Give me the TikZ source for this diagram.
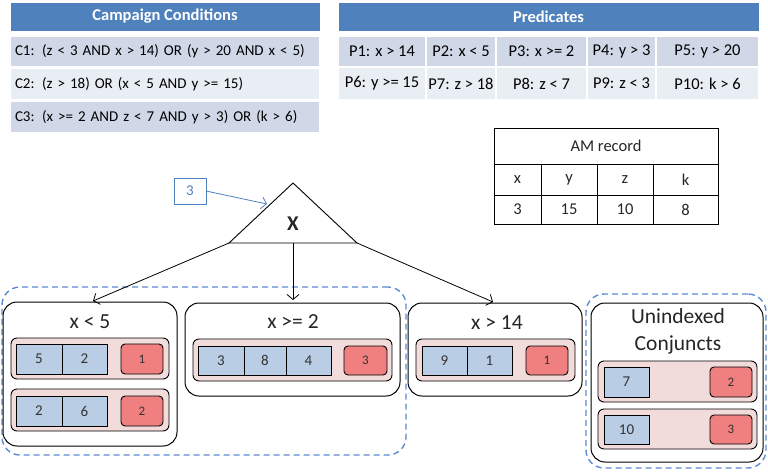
\documentclass[tikz,border=0pt]{standalone}
\usepackage{fontspec}
\setmainfont{Carlito}
\usetikzlibrary{arrows.meta}
\definecolor{hdr}{HTML}{4F81BD}
\definecolor{rowA}{HTML}{D0D8E8}
\definecolor{rowB}{HTML}{E9EDF4}
\definecolor{cellblue}{HTML}{B9CDE5}
\definecolor{cellred}{HTML}{F08080}
\definecolor{rowpink}{HTML}{F2DCDB}
\definecolor{dashblue}{HTML}{5B8BD0}
\definecolor{numblue}{HTML}{4F81BD}
\newcommand{\bx}[7]{\node[#6, minimum width={(#4-#2)*1pt}, minimum height={(#5-#3)*1pt}, inner sep=0pt, outer sep=0pt, anchor=center] (#1) at ({(#2+#4)/2},{(#3+#5)/2}) {#7};}
\tikzset{
  thead/.style={fill=hdr, draw=white, line width=1pt, text=white, font=\fontsize{16.5}{18}\selectfont\bfseries},
  trowA/.style={fill=rowA, draw=white, line width=1.5pt, font=\fontsize{15}{17}\selectfont},
  trowB/.style={fill=rowB, draw=white, line width=1.5pt, font=\fontsize{15}{17}\selectfont},
  prowA/.style={trowA, font=\fontsize{16.5}{18}\selectfont},
  prowB/.style={trowB, font=\fontsize{16.5}{18}\selectfont},
  amcell/.style={draw=black, line width=0.8pt, font=\fontsize{16.5}{18}\selectfont, text=black!85},
  group/.style={draw=dashblue, dashed, dash pattern=on 6pt off 4pt, line width=1.4pt, rounded corners=18pt},
  idxbox/.style={draw=black, line width=1pt, rounded corners=14pt, fill=white},
  conj/.style={draw=black, line width=0.9pt, fill=rowpink, rounded corners=6pt},
  bcell/.style={draw=black, line width=0.9pt, fill=cellblue, font=\fontsize{15}{17}\selectfont, text=black!80},
  rcell/.style={draw=black, line width=0.9pt, fill=cellred, rounded corners=4pt, font=\fontsize{13}{15}\selectfont, text=black!80},
  ttl/.style={font=\fontsize{21.5}{24}\selectfont, text=black!85},
  tarrow/.style={draw=black, line width=0.8pt, -{Straight Barb[length=5pt,width=12pt]}},
}
\begin{document}
\begin{tikzpicture}[x=1pt,y=-1pt]
\useasboundingbox (0,0) rectangle (768,471);
% Campaign conditions table
\bx{ch}{10}{2}{320}{31}{thead}{Campaign Conditions}
\bx{c1}{10}{36}{320}{67}{trowA, text width=300pt, align=left}{C1: (z < 3 AND x > 14) OR (y > 20 AND x < 5)}
\bx{c2}{10}{68}{320}{100}{trowB, text width=300pt, align=left}{C2: (z > 18) OR (x < 5 AND y >= 15)}
\bx{c3}{10}{101}{320}{133}{trowA, text width=300pt, align=left}{C3: (x >= 2 AND z < 7 AND y > 3) OR (k > 6)}
% Predicates table
\bx{ph}{338}{2}{759}{31}{thead}{Predicates}
\bx{p1}{338}{36}{426}{67}{prowA}{P1: x > 14}
\bx{p2}{426}{36}{496}{67}{prowA}{P2: x < 5}
\bx{p3}{496}{36}{587}{67}{prowA}{P3: x >= 2}
\bx{p4}{587}{36}{656}{67}{prowA}{P4: y > 3}
\bx{p5}{656}{36}{759}{67}{prowA}{P5: y > 20}
\bx{p6}{338}{67}{426}{100}{prowB}{P6: y >= 15}
\bx{p7}{426}{67}{496}{100}{prowB}{P7: z > 18}
\bx{p8}{496}{67}{587}{100}{prowB}{P8: z < 7}
\bx{p9}{587}{67}{656}{100}{prowB}{P9: z < 3}
\bx{p10}{656}{67}{759}{100}{prowB}{P10: k > 6}
% AM record
\bx{amh}{494}{128}{718}{164}{amcell}{AM record}
\bx{amx}{494}{164}{541}{195}{amcell}{x}
\bx{amy}{541}{164}{597}{195}{amcell}{y}
\bx{amz}{597}{164}{653}{195}{amcell}{z}
\bx{amk}{653}{164}{718}{195}{amcell}{k}
\bx{am3}{494}{195}{541}{224}{amcell}{3}
\bx{am15}{541}{195}{597}{224}{amcell}{15}
\bx{am10}{597}{195}{653}{224}{amcell}{10}
\bx{am8}{653}{195}{718}{224}{amcell}{8}
% triangle
\coordinate (tapex) at (293,183);
\coordinate (tl) at (229,243);
\coordinate (tr) at (357,243);
\coordinate (tm) at (293,243);
\draw[line width=0.9pt, line join=miter] (tapex) -- (tr) -- (tl) -- cycle;
\node[font=\fontsize{21}{23}\selectfont\bfseries, text=black!85] (X) at (293,224) {X};
\bx{three}{174}{178}{206}{204}{draw=numblue, line width=0.8pt, text=numblue, font=\fontsize{15}{17}\selectfont}{3}
\coordinate (hit) at (267,204);
\draw[draw=numblue, line width=0.8pt, -{Straight Barb[length=5pt,width=12pt]}] (three.east) -- (hit);
% dashed groups
\bx{grpL}{2}{287}{406}{455}{group}{}
\bx{grpR}{586}{294}{766}{468}{group}{}
% index boxes
\bx{bx5}{3}{302}{177}{446}{idxbox}{}
\node[ttl] (t5) at (90,322) {x < 5};
\bx{bx2}{185}{303}{400}{396}{idxbox}{}
\node[ttl] (t2) at (293,322) {x >= 2};
\bx{bx14}{408}{303}{582}{396}{idxbox}{}
\node[ttl] (t14) at (497,323) {x > 14};
\bx{bxU}{591}{303}{763}{462}{idxbox}{}
\node[ttl, align=center, font=\fontsize{21.5}{27}\selectfont] (tU) at (678,331) {Unindexed\\Conjuncts};
% arrows from triangle
\coordinate (a5) at (93,301);
\coordinate (a2) at (293,300);
\coordinate (a14) at (493,302);
\draw[tarrow] (tl) -- (a5);
\draw[tarrow] (tm) -- (a2);
\draw[tarrow] (tr) -- (a14);
% x<5 conjuncts
\bx{r51}{11}{338}{169}{379}{conj}{}
\bx{r51a}{16}{344}{62}{374}{bcell}{5}
\bx{r51b}{62}{344}{107}{374}{bcell}{2}
\bx{r51c}{121}{344}{163}{374}{rcell}{1}
\bx{r52}{11}{389}{169}{431}{conj}{}
\bx{r52a}{16}{396}{62}{426}{bcell}{2}
\bx{r52b}{62}{396}{107}{426}{bcell}{6}
\bx{r52c}{121}{396}{163}{426}{rcell}{2}
% x>=2
\bx{r21}{193}{339}{392}{381}{conj}{}
\bx{r21a}{198}{346}{244}{375}{bcell}{3}
\bx{r21b}{244}{346}{286}{375}{bcell}{8}
\bx{r21c}{286}{346}{331}{375}{bcell}{4}
\bx{r21d}{344}{346}{387}{375}{rcell}{3}
% x>14
\bx{r141}{416}{339}{575}{381}{conj}{}
\bx{r141a}{422}{346}{467}{375}{bcell}{9}
\bx{r141b}{467}{346}{512}{375}{bcell}{1}
\bx{r141c}{526}{346}{568}{375}{rcell}{1}
% unindexed
\bx{ru1}{598}{361}{757}{402}{conj}{}
\bx{ru1a}{604}{367}{649}{397}{bcell}{7}
\bx{ru1b}{710}{367}{752}{397}{rcell}{2}
\bx{ru2}{598}{409}{757}{449}{conj}{}
\bx{ru2a}{604}{415}{649}{444}{bcell}{10}
\bx{ru2b}{710}{415}{752}{444}{rcell}{3}
\end{tikzpicture}
\end{document}
